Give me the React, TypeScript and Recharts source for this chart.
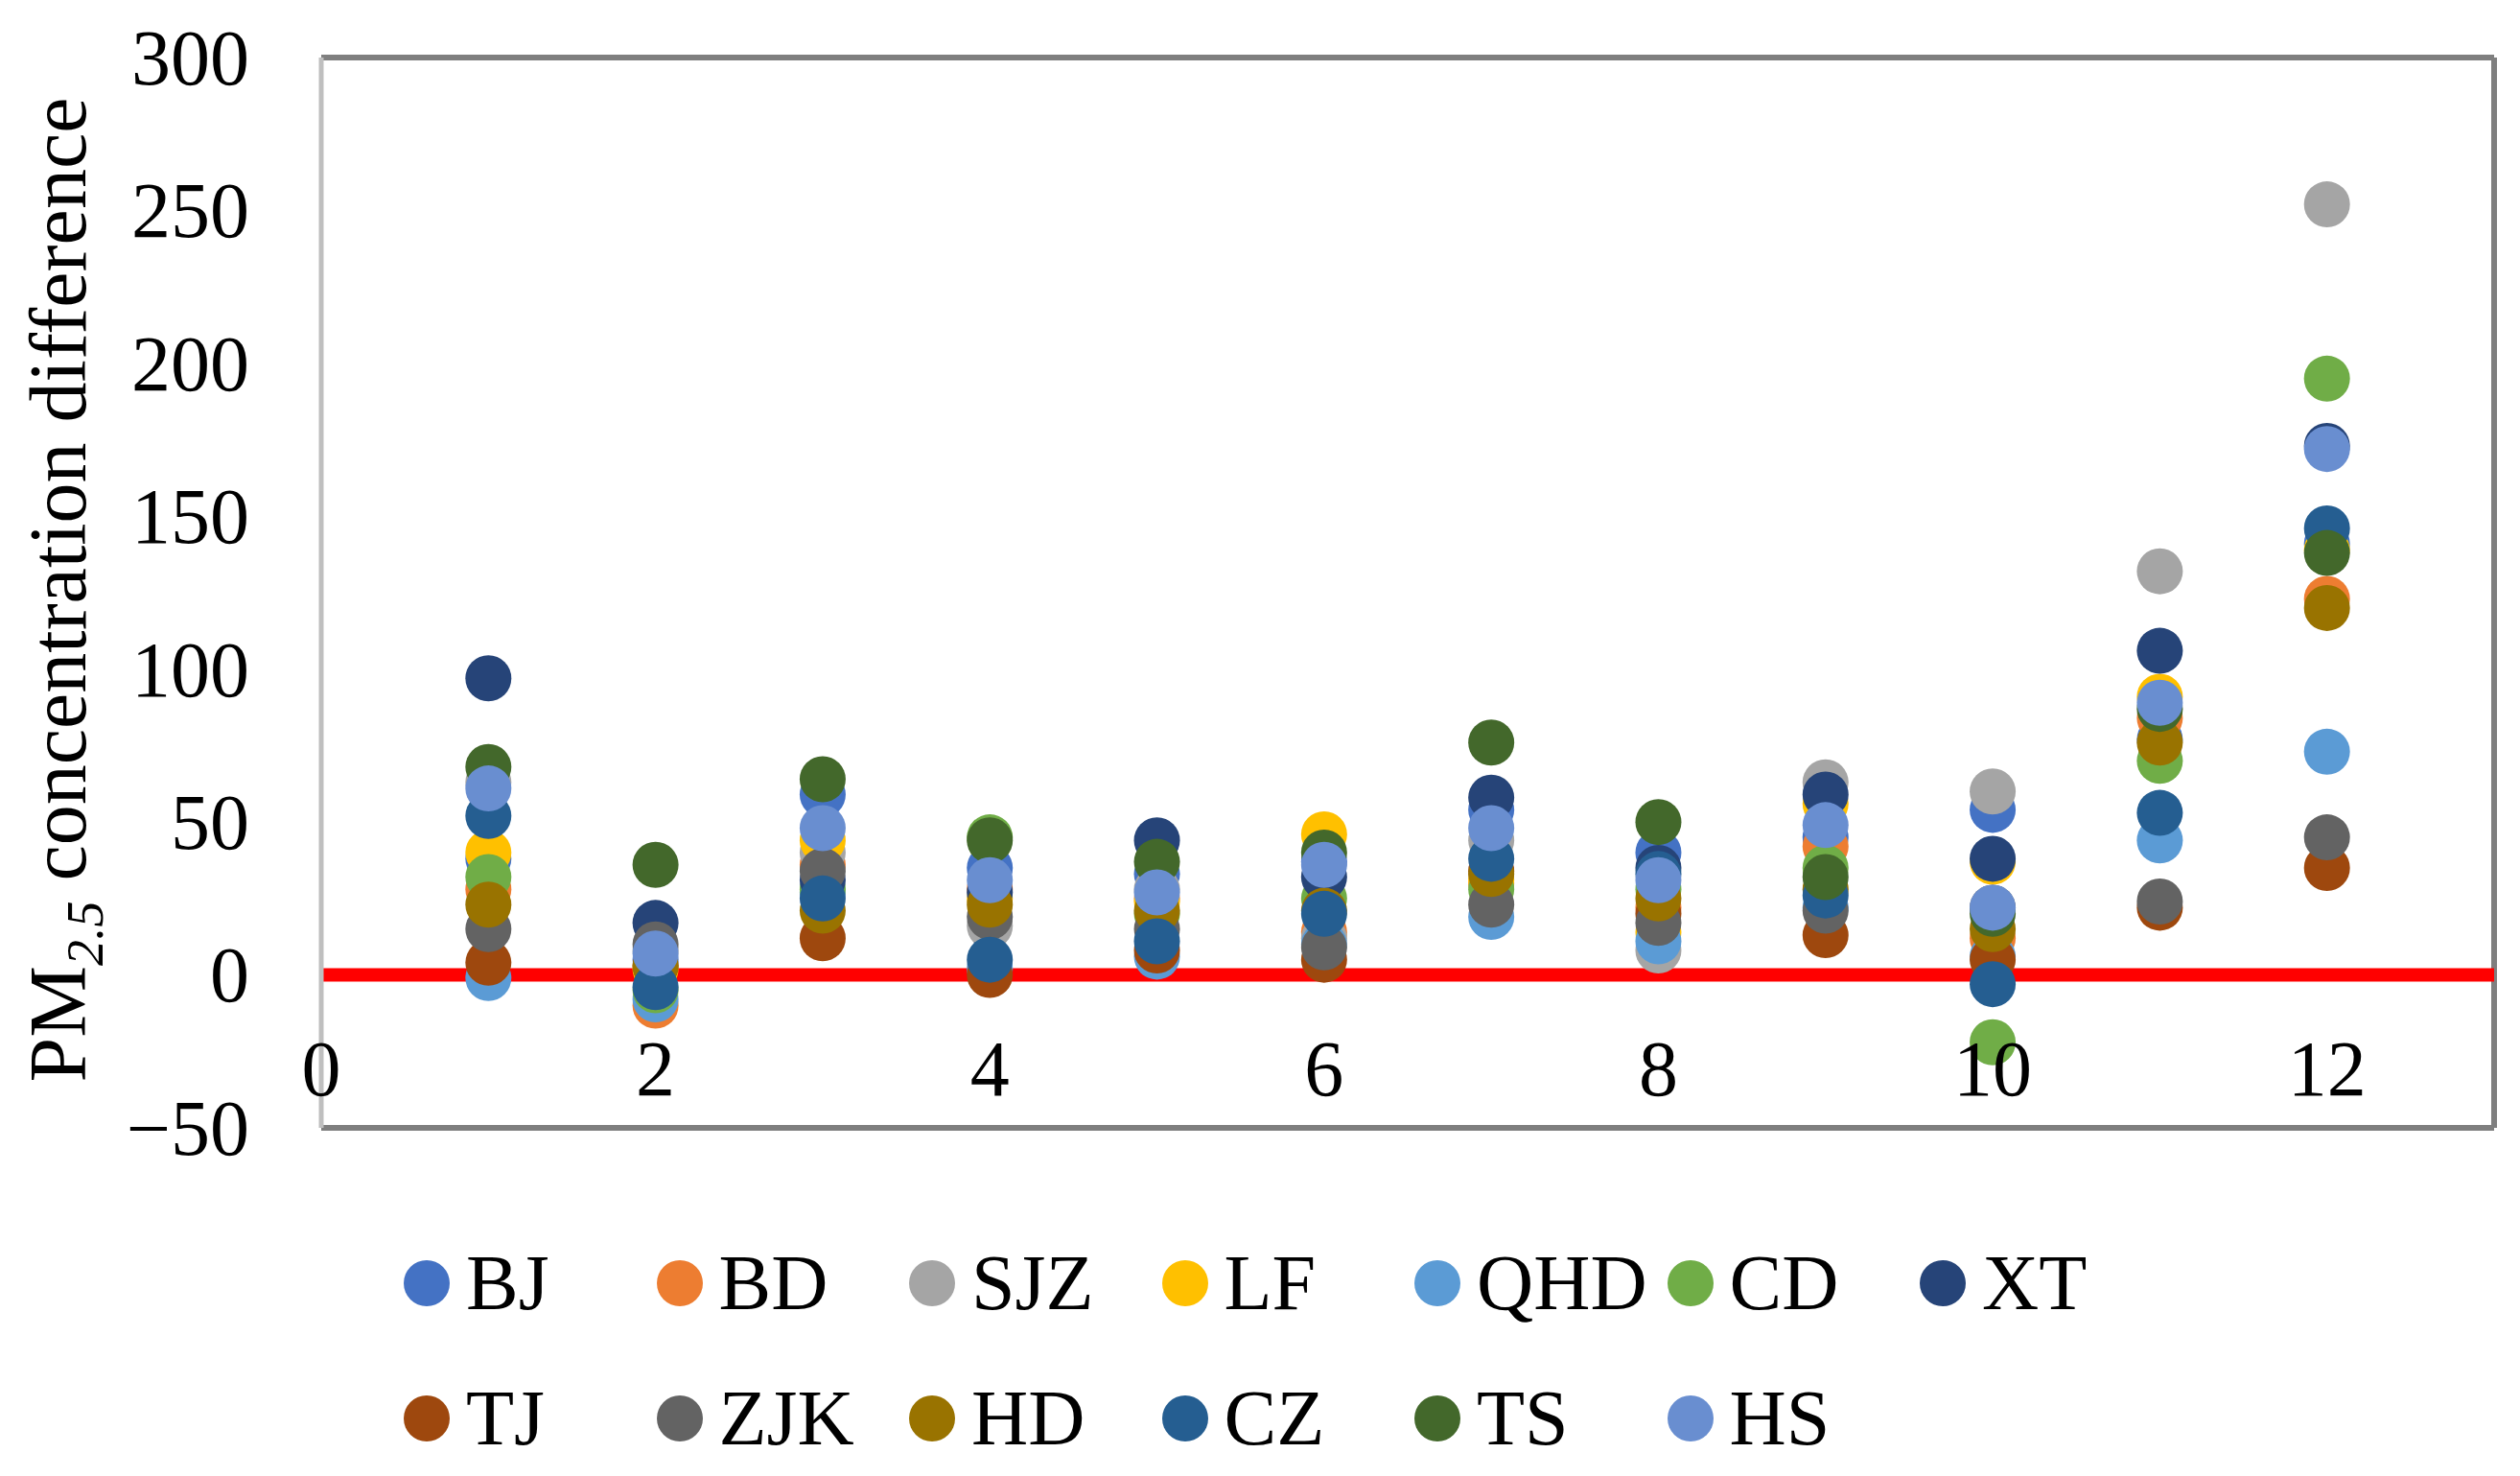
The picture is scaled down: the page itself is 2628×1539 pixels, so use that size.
import { ScatterChart, Scatter, XAxis, YAxis, ReferenceLine, Legend } from 'recharts'

const W = 2628
const H = 1539
const PLOT_TOP = 60
const X_AXIS_H = 363
const Y_AXIS_W = 335
const PLOT_H = H - PLOT_TOP - X_AXIS_H
const FONT = "'Liberation Serif', 'Times New Roman', serif"

const MONTHS = [1, 2, 3, 4, 5, 6, 7, 8, 9, 10, 11, 12]
const X_TICKS = [0, 2, 4, 6, 8, 10, 12]
const Y_TICKS = [-50, 0, 50, 100, 150, 200, 250, 300]

const BJ = [38, 5, 59, 35, 33, 37, 54, 40, 45, 54, 77, 141]
const BD = [28, -10, 36, 28, 25, 14, 30, 22, 42, 12, 84, 123]
const SJZ = [63, 8, 40, 16, 28, 12, 44, 8, 63, 60, 132, 252]
const LF = [40, 2, 44, 25, 24, 46, 31, 14, 56, 37, 91, 139]
const QHD = [-1, -8, 27, 2, 6, 10, 19, 11, 22, 6, 44, 73]
const CD = [32, -5, 28, 45, 20, 25, 28, 28, 35, -22, 70, 195]
const XT = [97, 17, 31, 27, 44, 32, 58, 35, 59, 38, 106, 173]
const TJ = [4, 3, 12, 0, 8, 5, 34, 20, 13, 5, 22, 35]
const ZJK = [15, 10, 34, 19, 15, 9, 23, 17, 21, 22, 24, 45]
const HD = [23, 3, 21, 23, 21, 21, 33, 25, 28, 15, 76, 120]
const CZ = [52, -4, 25, 5, 11, 20, 38, 33, 26, -3, 53, 146]
const TS = [68, 36, 64, 44, 37, 40, 76, 50, 32, 20, 87, 138]
const HS = [61, 7, 48, 31, 27, 36, 48, 31, 49, 22, 89, 172]

const SERIES = [
  { name: 'BJ', values: BJ, color: '#4472C4' },
  { name: 'BD', values: BD, color: '#ED7D31' },
  { name: 'SJZ', values: SJZ, color: '#A5A5A5' },
  { name: 'LF', values: LF, color: '#FFC000' },
  { name: 'QHD', values: QHD, color: '#5B9BD5' },
  { name: 'CD', values: CD, color: '#70AD47' },
  { name: 'XT', values: XT, color: '#264478' },
  { name: 'TJ', values: TJ, color: '#9E480E' },
  { name: 'ZJK', values: ZJK, color: '#636363' },
  { name: 'HD', values: HD, color: '#997300' },
  { name: 'CZ', values: CZ, color: '#255E91' },
  { name: 'TS', values: TS, color: '#43682B' },
  { name: 'HS', values: HS, color: '#698ED0' },
]
const ORDER = SERIES.map((s) => s.name)

// x labels sit just under the zero line, like Excel's crossing axis
const ZERO_Y = PLOT_TOP + PLOT_H * (300 / 350)
const X_LABEL_BASELINE = ZERO_Y + 125

function XTick({ x, payload }: any) {
  return (
    <text x={x} y={X_LABEL_BASELINE} textAnchor="middle" fontSize={82} fontFamily={FONT} fill="#000">
      {payload.value}
    </text>
  )
}

function YTick({ y, payload }: any) {
  const v = payload.value
  return (
    <text x={260} y={y} dy="0.34em" textAnchor="end" fontSize={82} fontFamily={FONT} fill="#000">
      {v < 0 ? `\u2212${Math.abs(v)}` : v}
    </text>
  )
}

function YTitle({ viewBox }: any) {
  const cy = viewBox.y + viewBox.height / 2 - 3
  return (
    <text
      x={89}
      y={cy}
      transform={`rotate(-90 89 ${cy})`}
      textAnchor="middle"
      fontSize={84}
      fontFamily={FONT}
      fill="#000"
    >
      <tspan>PM</tspan>
      <tspan fontSize={54} fontStyle="italic" dy={18}>2.5</tspan>
      <tspan dy={-18}> concentration difference</tspan>
    </text>
  )
}

function Dot(props: any) {
  return <circle cx={props.cx} cy={props.cy} r={24} fill={props.fill} />
}

function LegendBox({ payload }: any) {
  const items = [...(payload || [])].sort((a: any, b: any) => ORDER.indexOf(a.value) - ORDER.indexOf(b.value))
  return (
    <div style={{ display: 'flex', flexWrap: 'wrap', width: 1845, fontFamily: FONT }}>
      {items.map((p: any) => (
        <div key={p.value} style={{ width: 263.5, height: 141, display: 'flex', alignItems: 'center' }}>
          <svg width={48} height={48} style={{ flexShrink: 0 }}>
            <circle cx={24} cy={24} r={24} fill={p.color} />
          </svg>
          <span style={{ marginLeft: 17, fontSize: 82, lineHeight: 1, color: '#000' }}>{p.value}</span>
        </div>
      ))}
    </div>
  )
}

export default function App() {
  return (
    <div style={{ width: W, height: H, background: '#fff' }}>
      <style>{'body{margin:0}'}</style>
      <ScatterChart width={W} height={H} margin={{ top: PLOT_TOP, right: 27, bottom: 0, left: 0 }}>
        <XAxis
          type="number"
          dataKey="x"
          domain={[0, 13]}
          ticks={X_TICKS}
          axisLine={false}
          tickLine={false}
          height={X_AXIS_H}
          tick={<XTick />}
        />
        <YAxis
          type="number"
          dataKey="y"
          domain={[-50, 300]}
          ticks={Y_TICKS}
          width={Y_AXIS_W}
          axisLine={{ stroke: '#BFBFBF', strokeWidth: 5 }}
          tickLine={false}
          tick={<YTick />}
          label={<YTitle />}
        />
        <ReferenceLine y={300} stroke="#7F7F7F" strokeWidth={6} />
        <ReferenceLine y={-50} stroke="#7F7F7F" strokeWidth={6} />
        <ReferenceLine x={13} stroke="#7F7F7F" strokeWidth={6} />
        <ReferenceLine y={0} stroke="#FF0000" strokeWidth={14} />
        {SERIES.map((s) => (
          <Scatter
            key={s.name}
            name={s.name}
            data={MONTHS.map((m, i) => ({ x: m, y: s.values[i] }))}
            fill={s.color}
            shape={<Dot />}
            isAnimationActive={false}
          />
        ))}
        <Legend
          layout="horizontal"
          verticalAlign="middle"
          align="center"
          content={<LegendBox />}
          wrapperStyle={{ left: 421, top: 1267, width: 1845, height: 282 }}
        />
      </ScatterChart>
    </div>
  )
}
